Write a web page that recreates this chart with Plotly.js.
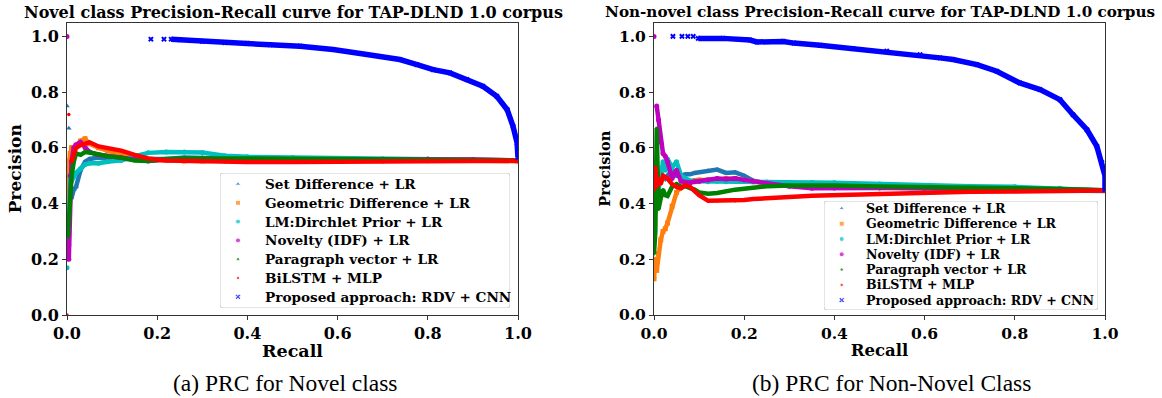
<!DOCTYPE html>
<html><head><meta charset="utf-8">
<script src="https://cdn.plot.ly/plotly-3.0.1.min.js"></script>
<style>html,body{margin:0;padding:0;background:#fff}</style>
</head><body><div id="chart" style="width:1162px;height:398px"></div>
<script>
// ---------- text ----------
const seriesNames = ['Set Difference + LR', 'Geometric Difference + LR', 'LM:Dirchlet Prior + LR',
  'Novelty (IDF) + LR', 'Paragraph vector + LR', 'BiLSTM + MLP', 'Proposed approach: RDV + CNN'];
const tickVals = [0, 0.2, 0.4, 0.6, 0.8, 1.0];
const titleNovel = 'Novel class Precision-Recall curve for TAP-DLND 1.0 corpus';
const titleNonNovel = 'Non-novel class Precision-Recall curve for TAP-DLND 1.0 corpus';
const captionNovel = '(a) PRC for Novel class';
const captionNonNovel = '(b) PRC for Non-Novel Class';
const xTitle = 'Recall', yTitle = 'Precision';

// ---------- data: Novel class ----------
const recallNovel = [0, 0.002, 0.004, 0.007, 0.01, 0.015, 0.02, 0.03, 0.04, 0.05, 0.07, 0.09, 0.12, 0.15, 0.18, 0.22, 0.26, 0.3, 0.35, 0.4, 0.5, 0.6, 0.7, 0.8, 0.9, 1.0];
const setDiffNovel   = [0.75, null, 0.67, null, 0.42, 0.45, 0.46, 0.52, 0.55, 0.56, 0.565, 0.56, 0.56, 0.56, 0.558, 0.56, 0.565, 0.565, 0.562, 0.56, 0.558, 0.556, 0.557, 0.556, 0.555, 0.553];
const geoDiffNovel   = [0.45, 0.38, 0.55, 0.58, 0.6, 0.6, 0.61, 0.625, 0.633, 0.615, 0.6, 0.59, 0.575, 0.565, 0.557, 0.555, 0.553, 0.553, 0.555, 0.556, 0.557, 0.558, 0.558, 0.557, 0.556, 0.552];
const lmDirNovel     = [0.17, null, 0.25, 0.5, 0.48, 0.5, 0.51, 0.525, 0.54, 0.545, 0.545, 0.55, 0.555, 0.57, 0.582, 0.585, 0.585, 0.583, 0.572, 0.568, 0.565, 0.562, 0.56, 0.558, 0.557, 0.555];
const noveltyNovel   = [1.0, null, 0.2, 0.5, 0.55, 0.6, 0.61, 0.62, 0.6, 0.585, 0.575, 0.57, 0.565, 0.558, 0.553, 0.558, 0.557, 0.556, 0.558, 0.558, 0.558, 0.558, 0.559, 0.56, 0.558, 0.555];
const paraVecNovel   = [0.3, 0.28, 0.33, 0.45, 0.5, 0.55, 0.58, 0.575, 0.585, 0.583, 0.575, 0.57, 0.565, 0.555, 0.553, 0.56, 0.562, 0.563, 0.563, 0.562, 0.561, 0.56, 0.559, 0.558, 0.556, 0.555];
const bilstmNovel    = [0.0, null, 0.72, null, 0.55, 0.58, 0.6, 0.61, 0.615, 0.62, 0.605, 0.6, 0.59, 0.575, 0.562, 0.555, 0.553, 0.552, 0.55, 0.549, 0.549, 0.549, 0.55, 0.551, 0.553, 0.554];
const proposedRecallNovel = [0.186, null, 0.215, null, 0.231, 0.25, 0.3, 0.35, 0.4, 0.45, 0.517, 0.59, 0.665, 0.738, 0.776, 0.812, 0.849, 0.887, 0.922, 0.953, 0.976, 0.989, 0.998, 1.0];
const proposedPrecNovel   = [0.99, null, 0.99, null, 0.99, 0.988, 0.982, 0.978, 0.975, 0.97, 0.965, 0.953, 0.935, 0.917, 0.899, 0.881, 0.869, 0.845, 0.821, 0.785, 0.737, 0.677, 0.618, 0.565];

// ---------- data: Non-novel class ----------
const recallNonNovel = [0, 0.003, 0.006, 0.01, 0.015, 0.02, 0.025, 0.03, 0.04, 0.05, 0.06, 0.07, 0.08, 0.09, 0.1, 0.12, 0.14, 0.16, 0.18, 0.2, 0.22, 0.25, 0.3, 0.35, 0.4, 0.5, 0.6, 0.7, 0.8, 0.9, 1.0];
const setDiffNonNovel = [0.45, 0.4, 0.47, 0.5, 0.48, 0.5, 0.49, 0.5, 0.52, 0.5, 0.5, 0.505, 0.505, 0.51, 0.512, 0.518, 0.522, 0.51, 0.512, 0.5, 0.482, 0.472, 0.466, 0.462, 0.46, 0.457, 0.455, 0.454, 0.452, 0.448, 0.445];
const geoDiffNonNovel = [0.13, 0.2, 0.16, 0.22, 0.27, 0.3, 0.31, 0.33, 0.39, 0.44, 0.46, 0.474, 0.478, 0.483, 0.485, 0.485, 0.487, 0.49, 0.49, 0.484, 0.478, 0.473, 0.47, 0.47, 0.468, 0.465, 0.46, 0.458, 0.455, 0.452, 0.447];
const lmDirNonNovel   = [0.33, 0.38, 0.42, 0.45, 0.5, 0.55, 0.52, 0.56, 0.53, 0.55, 0.5, 0.49, 0.482, 0.48, 0.48, 0.478, 0.48, 0.478, 0.48, 0.48, 0.478, 0.477, 0.476, 0.476, 0.475, 0.47, 0.465, 0.462, 0.46, 0.455, 0.447];
const noveltyNonNovel = [1.0, null, 0.75, 0.7, 0.62, 0.58, 0.57, 0.55, 0.49, 0.52, 0.48, 0.476, 0.475, 0.478, 0.48, 0.485, 0.49, 0.488, 0.49, 0.485, 0.48, 0.472, 0.462, 0.455, 0.456, 0.456, 0.455, 0.454, 0.452, 0.45, 0.448];
const paraVecNonNovel = [0.22, 0.3, 0.67, 0.38, 0.42, 0.45, 0.43, 0.427, 0.46, 0.47, 0.46, 0.462, 0.455, 0.45, 0.44, 0.435, 0.438, 0.445, 0.45, 0.453, 0.458, 0.462, 0.465, 0.466, 0.465, 0.461, 0.46, 0.458, 0.455, 0.452, 0.448];
const bilstmNonNovel  = [0.45, 0.53, 0.46, 0.49, 0.47, 0.5, 0.495, 0.49, 0.47, 0.46, 0.455, 0.466, 0.46, 0.443, 0.43, 0.41, 0.41, 0.412, 0.41, 0.413, 0.416, 0.42, 0.424, 0.428, 0.43, 0.436, 0.44, 0.442, 0.443, 0.445, 0.447];
const proposedRecallNonNovel = [0.042, null, 0.062, null, 0.075, null, 0.087, null, 0.098, 0.153, 0.213, 0.228, 0.287, 0.31, 0.368, 0.441, 0.516, 0.59, 0.634, 0.663, 0.716, 0.76, 0.811, 0.856, 0.9, 0.929, 0.96, 0.982, 0.993, 1.0, 1.0];
const proposedPrecNonNovel   = [1.0, null, 1.0, null, 1.0, null, 1.0, null, 0.993, 0.993, 0.987, 0.98, 0.982, 0.976, 0.968, 0.956, 0.947, 0.935, 0.923, 0.917, 0.899, 0.875, 0.833, 0.809, 0.773, 0.719, 0.665, 0.605, 0.547, 0.5, 0.45];

// ---------- styles ----------
const colors  = ['#1f77b4', '#ff7f0e', '#00bfbf', '#bf00bf', '#008000', '#ff0000', '#0000ff'];
const symbols = ['triangle-up', 'square', 'circle', 'circle', 'circle', 'circle', 'x'];
const msizes  = [5, 5, 5, 5, 3.5, 3.5, 5];
const FONT = 'DejaVu Serif';
const W = 1162, H = 398;
const px = v => v / W, py = v => 1 - v / H;

function panel(xa, ya, recall, precs, propR, propP) {
  const out = [];
  const all = precs.map(p => [recall, p]).concat([[propR, propP]]);
  all.forEach(([rx, pv], i) => {
    out.push({type: 'scatter', mode: 'lines', x: rx, y: pv, xaxis: xa, yaxis: ya,
      line: {color: colors[i], width: i === 6 ? 5.5 : 4.5}, showlegend: false, hoverinfo: 'skip'});
    out.push({type: 'scatter', mode: 'markers', x: rx, y: pv, xaxis: xa, yaxis: ya, name: seriesNames[i],
      marker: {color: colors[i], symbol: symbols[i], size: msizes[i]}, showlegend: false, hoverinfo: 'skip'});
  });
  return out;
}

const traces = []
  .concat(panel('x', 'y', recallNovel,
    [setDiffNovel, geoDiffNovel, lmDirNovel, noveltyNovel, paraVecNovel, bilstmNovel],
    proposedRecallNovel, proposedPrecNovel))
  .concat(panel('x2', 'y2', recallNonNovel,
    [setDiffNonNovel, geoDiffNonNovel, lmDirNonNovel, noveltyNonNovel, paraVecNonNovel, bilstmNonNovel],
    proposedRecallNonNovel, proposedPrecNonNovel));

// legends (matplotlib-style compact boxes), each on its own hidden pixel-scaled axis pair
const legends = [
  {xa: 'x3', ya: 'y3', box: {x0: 220, x1: 510, y0: 173, y1: 308}, row0: 11, step: 18.8, keyX: 18, textX: 43, fsize: 13.6},
  {xa: 'x4', ya: 'y4', box: {x0: 824, x1: 1098, y0: 201, y1: 310}, row0: 7.4, step: 15.3, keyX: 17.7, textX: 40, fsize: 12.6}
];
const legendAxes = {}, legendShapes = [], legendAnn = [];
legends.forEach(L => {
  const w = L.box.x1 - L.box.x0, h = L.box.y1 - L.box.y0;
  const n = L.xa.slice(1);
  legendAxes['xaxis' + n] = {domain: [px(L.box.x0), px(L.box.x1)], anchor: L.ya, range: [0, w], visible: false, fixedrange: true};
  legendAxes['yaxis' + n] = {domain: [py(L.box.y1), py(L.box.y0)], anchor: L.xa, range: [h, 0], visible: false, fixedrange: true};
  const r = 3;
  legendShapes.push({type: 'path', xref: L.xa, yref: L.ya, layer: 'below',
    path: `M ${r},0 H ${w - r} Q ${w},0 ${w},${r} V ${h - r} Q ${w},${h} ${w - r},${h} H ${r} Q 0,${h} 0,${h - r} V ${r} Q 0,0 ${r},0 Z`,
    fillcolor: 'rgba(255,255,255,0.8)', line: {color: '#cccccc', width: 1}});
  traces.push({type: 'scatter', mode: 'markers', xaxis: L.xa, yaxis: L.ya, showlegend: false, hoverinfo: 'skip',
    x: seriesNames.map(() => L.keyX), y: seriesNames.map((_, i) => L.row0 + i * L.step),
    marker: {color: colors, symbol: symbols, size: msizes}});
  seriesNames.forEach((s, i) => legendAnn.push({xref: L.xa, yref: L.ya, x: L.textX, y: L.row0 + i * L.step, text: s,
    showarrow: false, xanchor: 'left', yanchor: 'middle', font: {family: FONT, size: L.fsize, weight: 'bold', color: '#000'}}));
});

function xaxisCfg(domain, anchor, tsize, titleSize) {
  return {domain, anchor, range: [0, 1], tickvals: tickVals, tickformat: '.1f', ticks: 'outside', ticklen: 4,
    tickcolor: '#333', showline: true, mirror: true, linecolor: '#333', linewidth: 1, showgrid: false, zeroline: false,
    tickfont: {family: FONT, size: tsize, weight: 'bold', color: '#000'},
    title: {text: xTitle, font: {family: FONT, size: titleSize, weight: 'bold', color: '#000'}, standoff: 2},
    fixedrange: true};
}
function yaxisCfg(anchor, tsize, titleSize, standoff) {
  return {domain: [py(315), py(22.5)], anchor, range: [0, 1.05], tickvals: tickVals, tickformat: '.1f', ticks: 'outside', ticklen: 4,
    tickcolor: '#333', showline: true, mirror: true, linecolor: '#333', linewidth: 1, showgrid: false, zeroline: false,
    tickfont: {family: FONT, size: tsize, weight: 'bold', color: '#000'},
    title: {text: yTitle, font: {family: FONT, size: titleSize, weight: 'bold', color: '#000'}, standoff},
    fixedrange: true};
}

const annotations = [
  {xref: 'paper', yref: 'paper', x: px(293), y: py(12), text: titleNovel, showarrow: false, xanchor: 'center', yanchor: 'middle',
    font: {family: FONT, size: 16, weight: 'bold', color: '#000'}},
  {xref: 'paper', yref: 'paper', x: px(880), y: py(12), text: titleNonNovel, showarrow: false, xanchor: 'center', yanchor: 'middle',
    font: {family: FONT, size: 15.2, weight: 'bold', color: '#000'}},
  {xref: 'paper', yref: 'paper', x: px(285), y: py(383), text: captionNovel, showarrow: false, xanchor: 'center', yanchor: 'middle',
    font: {family: 'Liberation Serif', size: 23.5, color: '#000'}},
  {xref: 'paper', yref: 'paper', x: px(891), y: py(383), text: captionNonNovel, showarrow: false, xanchor: 'center', yanchor: 'middle',
    font: {family: 'Liberation Serif', size: 23.5, color: '#000'}}
].concat(legendAnn);

const layout = Object.assign({
  width: W, height: H, margin: {l: 0, r: 0, t: 0, b: 0},
  paper_bgcolor: '#fff', plot_bgcolor: 'rgba(0,0,0,0)',
  font: {family: FONT, color: '#000'},
  xaxis: xaxisCfg([px(67), px(518)], 'y', 16, 17.5),
  yaxis: yaxisCfg('x', 16, 17, 5),
  xaxis2: xaxisCfg([px(654), px(1105)], 'y2', 15.5, 16.5),
  yaxis2: yaxisCfg('x2', 15.5, 14.5, 4),
  showlegend: false,
  shapes: legendShapes,
  annotations
}, legendAxes);

Plotly.newPlot('chart', traces, layout, {displayModeBar: false, staticPlot: true});
</script></body></html>
